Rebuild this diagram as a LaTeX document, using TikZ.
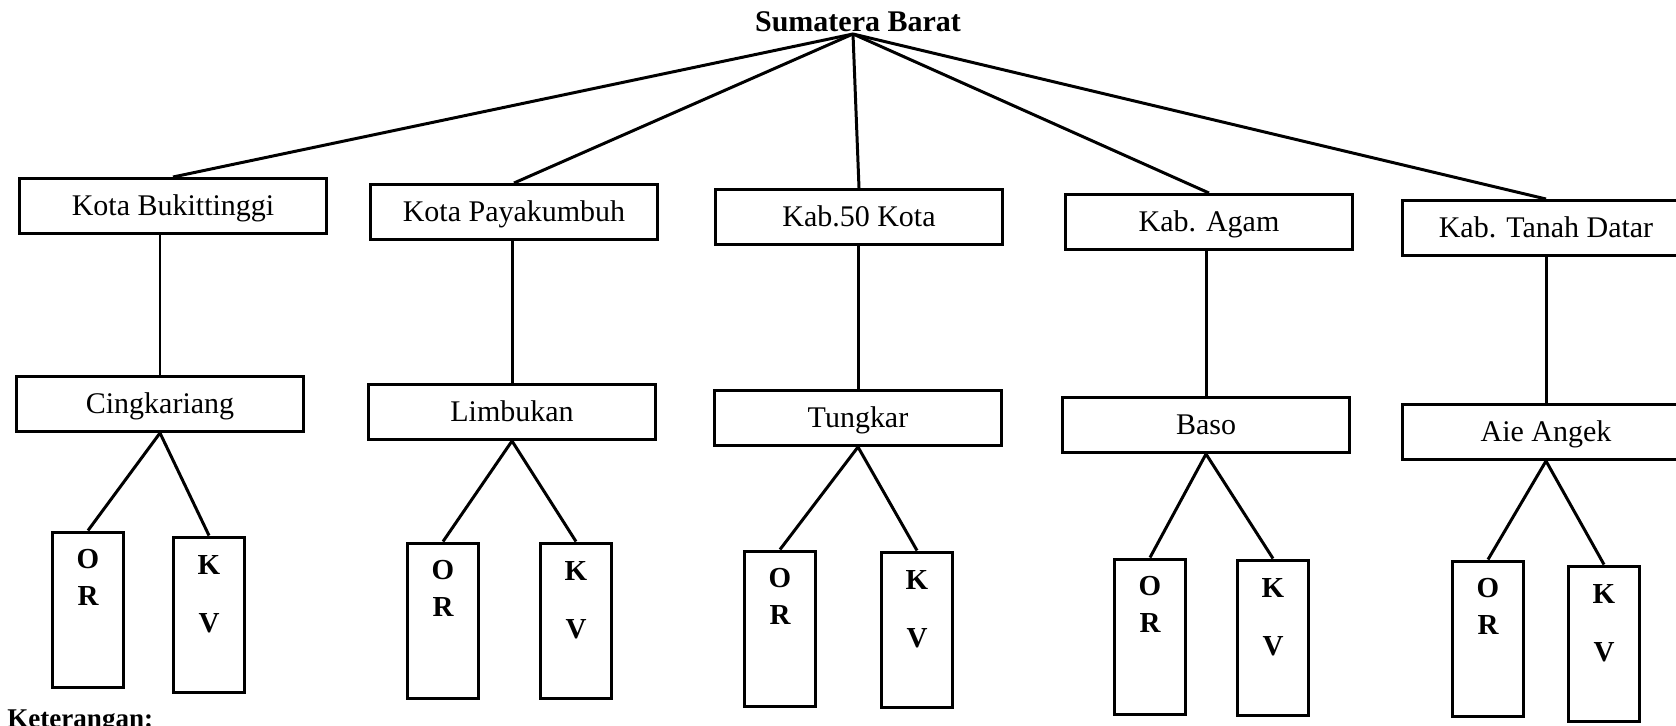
\documentclass[tikz,border=0pt]{standalone}
\usepackage{fontspec}
\setmainfont{Liberation Serif}
\usetikzlibrary{calc}
\begin{document}
\begin{tikzpicture}[x=0.02cm,y=-0.02cm,
  conn/.style={line width=1.7pt},
  bigbox/.style={draw,line width=1.7pt,inner sep=0pt,minimum width=5.74cm,minimum height=1.1cm,
    text height=12pt,text depth=0.7pt,font=\fontsize{17.07}{20}\selectfont},
  tallbox/.style={draw,line width=1.7pt,inner sep=0pt,minimum width=1.42cm,minimum height=3.12cm},
  letter/.style={font=\fontsize{16.5}{19}\selectfont\bfseries,inner sep=0pt},
  titletext/.style={font=\fontsize{17.07}{20}\selectfont\bfseries,inner sep=0pt},
  notetext/.style={font=\fontsize{15.4}{18}\selectfont\bfseries,inner sep=0pt,anchor=base west}]
\useasboundingbox (0,0) rectangle (1676,726);
% title
\node[titletext] (top) at (858,22) {Sumatera Barat};
\coordinate (apex) at (853,34);
% level 1
\node[bigbox,minimum width=6.14cm] (A1) at (173,206) {Kota Bukittinggi};
\node[bigbox] (A2) at (514,212) {Kota Payakumbuh};
\node[bigbox] (A3) at (859,217) {Kab.50 Kota};
\node[bigbox] (A4) at (1209,222) {Kab. Agam};
\node[bigbox] (A5) at (1546,228) {Kab. Tanah Datar};
% level 2
\node[bigbox] (B1) at (160,404) {Cingkariang};
\node[bigbox] (B2) at (512,412) {Limbukan};
\node[bigbox] (B3) at (858,418) {Tungkar};
\node[bigbox] (B4) at (1206,425) {Baso};
\node[bigbox] (B5) at (1546,432) {Aie Angek};
% level 3
\node[tallbox] (O1) at (88,610) {};
\node[tallbox] (K1) at (209,615) {};
\node[tallbox] (O2) at (443,621) {};
\node[tallbox] (K2) at (576,621) {};
\node[tallbox] (O3) at (780,629) {};
\node[tallbox] (K3) at (917,630) {};
\node[tallbox] (O4) at (1150,637) {};
\node[tallbox] (K4) at (1273,638) {};
\node[tallbox] (O5) at (1488,639) {};
\node[tallbox] (K5) at (1604,644) {};
% letters and connectors
\foreach \i in {1,...,5}{
  \node[letter] (lo\i) at ($(O\i.north)+(0,29)$) {O};
  \node[letter] (lr\i) at ($(O\i.north)+(0,65)$) {R};
  \node[letter] (lk\i) at ($(K\i.north)+(0,29)$) {K};
  \node[letter] (lv\i) at ($(K\i.north)+(0,88)$) {V};
  \draw[conn] (apex) -- (A\i.north);
  \draw[conn] (B\i.north |- A\i.south) -- (B\i.north);
  \draw[conn] (B\i.south) -- (O\i.north);
  \draw[conn] (B\i.south) -- (K\i.north);
}
% note
\node[notetext] (note) at (7,727) {Keterangan:};
\end{tikzpicture}
\end{document}
